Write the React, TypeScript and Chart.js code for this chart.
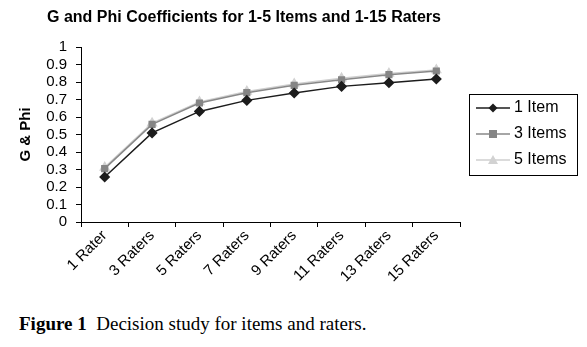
import React, { useEffect, useRef } from "react";
import { Chart, registerables } from "chart.js";

Chart.register(...registerables);

const categories = ["1 Rater", "3 Raters", "5 Raters", "7 Raters", "9 Raters", "11 Raters", "13 Raters", "15 Raters"];
const oneItem = [0.257, 0.509, 0.632, 0.695, 0.737, 0.775, 0.796, 0.817];
const threeItems = [0.305, 0.558, 0.680, 0.739, 0.781, 0.813, 0.842, 0.863];
const fiveItems = [0.312, 0.565, 0.686, 0.746, 0.789, 0.821, 0.848, 0.869];
const seriesNames = ["1 Item", "3 Items", "5 Items"];
const chartTitle = "G and Phi Coefficients for 1-5 Items and 1-15 Raters";
const yTitle = "G & Phi";

const SANS = "'Liberation Sans', Arial, sans-serif";

const titlePlugin = {
  id: "customTitle",
  afterDraw(chart: any) {
    const ctx = chart.ctx;
    ctx.save();
    ctx.font = `bold 16px ${SANS}`;
    ctx.fillStyle = "#000";
    ctx.textAlign = "center";
    ctx.textBaseline = "middle";
    ctx.fillText(chartTitle, 244, 18);
    ctx.restore();
  },
};

const legendPlugin = {
  id: "customLegend",
  afterDraw(chart: any) {
    const ctx = chart.ctx;
    const x0 = 469, y0 = 94, w = 108, h = 81;
    ctx.save();
    ctx.strokeStyle = "#000";
    ctx.lineWidth = 1;
    ctx.strokeRect(x0 + 0.5, y0 + 0.5, w, h);
    const ys = [108, 134, 160];
    chart.data.datasets.forEach((ds: any, i: number) => {
      const y = ys[i];
      ctx.strokeStyle = ds.borderColor;
      ctx.lineWidth = 1.5;
      ctx.beginPath();
      ctx.moveTo(476, y);
      ctx.lineTo(510, y);
      ctx.stroke();
      ctx.fillStyle = ds.pointBackgroundColor;
      const cx = 493;
      ctx.beginPath();
      if (ds.pointStyle === "rectRot") {
        ctx.moveTo(cx, y - 4.5); ctx.lineTo(cx + 4.5, y); ctx.lineTo(cx, y + 4.5); ctx.lineTo(cx - 4.5, y);
      } else if (ds.pointStyle === "rect") {
        ctx.rect(cx - 4, y - 4, 8, 8);
      } else {
        ctx.moveTo(cx, y - 5); ctx.lineTo(cx + 5, y + 4); ctx.lineTo(cx - 5, y + 4);
      }
      ctx.closePath();
      ctx.fill();
      ctx.fillStyle = "#000";
      ctx.font = `16px ${SANS}`;
      ctx.textAlign = "left";
      ctx.textBaseline = "middle";
      ctx.fillText(ds.label, 514, y);
    });
    ctx.restore();
  },
};

export default function App() {
  const ref = useRef<HTMLCanvasElement | null>(null);
  useEffect(() => {
    if (!ref.current) return;
    const chart = new Chart(ref.current, {
      type: "line",
      data: {
        labels: categories,
        datasets: [
          {
            label: seriesNames[0], data: oneItem, borderColor: "#1c1c1c", backgroundColor: "#1c1c1c",
            pointBackgroundColor: "#1c1c1c", pointBorderColor: "#1c1c1c", pointStyle: "rectRot",
            pointRadius: 4.5, borderWidth: 1.5, tension: 0,
          },
          {
            label: seriesNames[1], data: threeItems, borderColor: "#888888", backgroundColor: "#888888",
            pointBackgroundColor: "#858585", pointBorderColor: "#858585", pointStyle: "rect",
            pointRadius: 4, borderWidth: 1.5, tension: 0,
          },
          {
            label: seriesNames[2], data: fiveItems, borderColor: "#cfcfcf", backgroundColor: "#cfcfcf",
            pointBackgroundColor: "#d2d2d2", pointBorderColor: "#d2d2d2", pointStyle: "triangle",
            pointRadius: 5, borderWidth: 1.5, tension: 0,
          },
        ],
      },
      options: {
        animation: false,
        responsive: false,
        layout: { padding: { top: 47, right: 127, left: 0, bottom: 0 } },
        plugins: { legend: { display: false }, title: { display: false }, tooltip: { enabled: false } },
        scales: {
          x: {
            offset: true,
            grid: { display: true, drawOnChartArea: false, drawTicks: true, tickLength: 5, color: "#000", offset: true },
            border: { display: true, color: "#000", width: 1 },
            ticks: { color: "#000", font: { family: SANS, size: 15 }, maxRotation: 45, minRotation: 45, padding: 0, autoSkip: false },
            afterFit: (s: any) => { s.height = 78; },
          },
          y: {
            min: 0, max: 1,
            grid: { display: true, drawOnChartArea: false, drawTicks: true, tickLength: 5, color: "#000" },
            border: { display: true, color: "#000", width: 1 },
            ticks: { stepSize: 0.1, autoSkip: false, color: "#000", font: { family: SANS, size: 15 }, padding: 9,
              callback: (v: any) => String(Math.round(Number(v) * 10) / 10) },
            title: { display: true, text: yTitle, color: "#000", font: { family: SANS, size: 15, weight: "bold" }, padding: { top: 17, bottom: 0 } },
            afterFit: (s: any) => { s.width = 81; },
          },
        },
      },
      plugins: [titlePlugin, legendPlugin],
    } as any);
    return () => chart.destroy();
  }, []);
  return (
    <div style={{ position: "fixed", left: 0, top: 0, width: 587, height: 347, background: "#fff" }}>
      <canvas ref={ref} width={587} height={300} style={{ position: "absolute", left: 0, top: 0 }} />
      <div style={{ position: "absolute", left: 19, top: 313, fontFamily: "'Liberation Serif', 'Times New Roman', serif", fontSize: 19, color: "#000", whiteSpace: "nowrap" }}>
        <b>Figure 1</b>&nbsp; Decision study for items and raters.
      </div>
    </div>
  );
}
